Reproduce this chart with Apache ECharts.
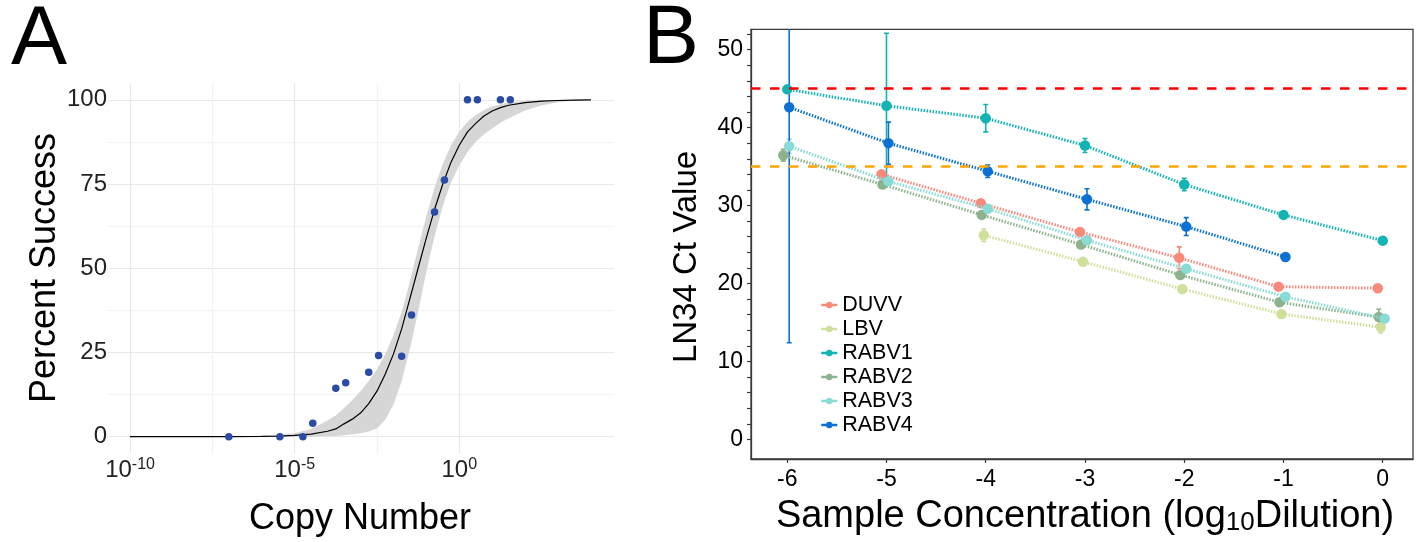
<!DOCTYPE html>
<html><head><meta charset="utf-8">
<script src="https://cdn.jsdelivr.net/npm/echarts@6/dist/echarts.min.js"></script>
<style>html,body{margin:0;padding:0;background:#fff}#c{width:1419px;height:542px}</style>
</head><body><div id="c"></div>
<script>
// ---------- Panel A data ----------
const copyLog10 = [-7.0, -5.45, -4.75, -4.45, -3.75, -3.45, -2.75, -2.45, -1.75, -1.45, -0.75, -0.45, 0.25, 0.55, 1.25, 1.55];
const percentSuccess = [0, 0, 0, 4, 14.4, 16, 19.1, 24.1, 23.9, 36.1, 66.7, 76.2, 100, 100, 100, 100];
const fitLog10 = [-10,-9,-8,-7,-6,-5.5,-5,-4.5,-4,-3.75,-3.5,-3.25,-3,-2.75,-2.5,-2.25,-2,-1.75,-1.5,-1.25,-1,-0.75,-0.5,-0.25,0,0.25,0.5,0.75,1,1.25,1.5,2,2.5,3,3.5,4];
const fitPercent = [0,0,0,0.02,0.08,0.17,0.37,0.74,1.6,2.3,3.8,5.2,7,9.8,13.5,18.5,24.5,32,41,50,59,67.5,75,81.5,86.5,90.5,93,95.2,96.7,97.7,98.4,99.2,99.6,99.8,99.9,100];
const fitLower = [0,0,0,0,0,0,0,0,0.1,0.2,0.4,0.7,1,1.5,2.5,5,9.5,16.5,26,37,49,59.5,68.5,75.5,80.5,84.5,87.5,89.8,91.5,93.2,94.5,96.8,98.3,99.3,99.7,100];
const fitUpper = [0,0,0,0.1,0.3,0.5,1,2.3,4.8,6.3,8.5,10.8,13.5,16.5,20,24.5,30,37,46,56,65.5,74,81,86.5,90.5,93.5,95.5,97,98,98.7,99.2,99.7,99.9,100,100,100];
const aXTicks = [-10, -7.5, -5, -2.5, 0, 2.5];
const aXLabels = [-10, -5, 0];
const aYTicks = [0, 12.5, 25, 37.5, 50, 62.5, 75, 87.5, 100];
const aYLabels = [0, 25, 50, 75, 100];

// ---------- Panel B data ----------
const dilution = [-6, -5, -4, -3, -2, -1, 0];
const seriesNames = ['DUVV', 'LBV', 'RABV1', 'RABV2', 'RABV3', 'RABV4'];
const DUVV  = [null, 34.0, 30.3, 26.6, 23.3, 19.6, 19.4];
const LBV   = [null, null, 26.2, 22.8, 19.3, 16.1, 14.4];
const RABV1 = [44.9, 42.8, 41.2, 37.7, 32.7, 28.8, 25.5];
const RABV2 = [36.45, 32.7, 28.8, 25.0, 21.1, 17.6, 15.7];
const RABV3 = [37.6, 33.1, 29.6, 25.55, 21.9, 18.3, 15.5];
const RABV4 = [42.6, 38.0, 34.4, 30.8, 27.3, 23.4, null];
const DUVV_sd  = [null, 0.3, 0.4, 0.3, 1.4, 0.3, 0.4];
const LBV_sd   = [null, null, 0.8, 0.3, 0.3, 0.3, 0.75];
const RABV1_sd = [0.3, 9.3, 1.75, 0.9, 0.8, 0.2, 0.2];
const RABV2_sd = [0.75, 0.3, 0.3, 0.3, 0.3, 0.3, 1.0];
const RABV3_sd = [0.9, 0.3, 0.3, 0.3, 0.3, 0.3, 0.3];
const RABV4_sd = [30.2, 2.7, 0.8, 1.35, 1.15, 0.2, null];
const bXLabels = [-6, -5, -4, -3, -2, -1, 0];
const bYTicks = [0,2,4,6,8,10,12,14,16,18,20,22,24,26,28,30,32,34,36,38,40,42,44,46,48,50,52];
const bYLabels = [0, 10, 20, 30, 40, 50];
const cutoffs = [45, 35];

// ---------- styling ----------
const FONT = "'Liberation Sans', Arial, Helvetica, sans-serif";
const bColors = {DUVV:'#F88A7C', LBV:'#CFE09C', RABV1:'#14B3B4', RABV2:'#8DB28E', RABV3:'#8ADBD6', RABV4:'#0B72D3'};
const dodge = {DUVV:-0.05, LBV:-0.02, RABV1:0, RABV2:-0.04, RABV3:0.02, RABV4:0.02};
const cutoffColors = ['#FF0000', '#FFA500'];
const means = {DUVV, LBV, RABV1, RABV2, RABV3, RABV4};
const sds = {DUVV:DUVV_sd, LBV:LBV_sd, RABV1:RABV1_sd, RABV2:RABV2_sd, RABV3:RABV3_sd, RABV4:RABV4_sd};

const chart = echarts.init(document.getElementById('c'), null, {renderer:'canvas'});

const series = [];
// Panel A band
series.push({
  type:'custom', xAxisIndex:0, yAxisIndex:0, silent:true, z:1,
  data: fitLog10.map((x,i)=>[x, fitLower[i], fitUpper[i]]),
  encode:{x:0, y:[1,2]},
  renderItem(params, api){
    if (params.dataIndex !== 0) return null;
    const up = fitLog10.map((x,i)=>api.coord([x, fitUpper[i]]));
    const lo = fitLog10.map((x,i)=>api.coord([x, fitLower[i]])).reverse();
    return {type:'polygon', shape:{points: up.concat(lo)}, style:{fill:'#D6D6D6'}};
  }
});
series.push({
  type:'line', xAxisIndex:0, yAxisIndex:0, z:3, silent:true,
  data: fitLog10.map((x,i)=>[x, fitPercent[i]]),
  showSymbol:false, smooth:false,
  lineStyle:{color:'#000', width:1.2}
});
series.push({
  type:'scatter', xAxisIndex:0, yAxisIndex:0, z:4, silent:true,
  data: copyLog10.map((x,i)=>[x, percentSuccess[i]]),
  symbolSize:7.5, itemStyle:{color:'#2A4CA6', opacity:1}
});

// Panel B: error bars
seriesNames.forEach(n=>{
  const col = bColors[n];
  const d = [];
  dilution.forEach((x,i)=>{ if (means[n][i] != null) d.push([x + dodge[n], means[n][i]-sds[n][i], means[n][i]+sds[n][i]]); });
  series.push({
    type:'custom', name: n + ' sd', xAxisIndex:1, yAxisIndex:1, clip:true, z:2, silent:true,
    data:d, encode:{x:0, y:[1,2]},
    renderItem(params, api){
      const x = api.value(0);
      const pLo = api.coord([x, api.value(1)]), pHi = api.coord([x, api.value(2)]);
      const w = 2.5, st = {stroke: col, lineWidth: 1.6};
      return {type:'group', children:[
        {type:'line', shape:{x1:pLo[0], y1:pLo[1], x2:pHi[0], y2:pHi[1]}, style:st},
        {type:'line', shape:{x1:pLo[0]-w, y1:pLo[1], x2:pLo[0]+w, y2:pLo[1]}, style:st},
        {type:'line', shape:{x1:pHi[0]-w, y1:pHi[1], x2:pHi[0]+w, y2:pHi[1]}, style:st}
      ]};
    }
  });
});
// Panel B: lines + points
seriesNames.forEach((n, k)=>{
  const d = [];
  dilution.forEach((x,i)=>{ if (means[n][i] != null) d.push([x + dodge[n], means[n][i]]); });
  const s = {
    type:'line', name:n, xAxisIndex:1, yAxisIndex:1, z:3 + k*0.01, silent:true,
    data:d, symbol:'circle', symbolSize:10.5, showSymbol:true,
    lineStyle:{color:bColors[n], width:3, type:[1.5,1.5]},
    itemStyle:{color:bColors[n]}
  };
  if (k === 0) {
    s.markLine = {
      silent:true, symbol:'none', label:{show:false},
      lineStyle:{width:2.6, type:[9.5,9.5]},
      data: cutoffs.map((v,j)=>({yAxis:v, lineStyle:{color:cutoffColors[j], width:2.6, type:[9.5,9.5]}}))
    };
  }
  series.push(s);
});

const option = {
  animation:false,
  backgroundColor:'#fff',
  textStyle:{fontFamily:FONT},
  grid:[
    {left:107, top:83, width:507, height:370.5, show:false},
    {left:751, top:29.3, width:662, height:429.7, show:true, borderColor:'#3a3a3a', borderWidth:1.3, backgroundColor:'transparent'}
  ],
  xAxis:[
    {type:'value', gridIndex:0, min:-10.7, max:4.7,
     axisLine:{show:false, onZero:false}, axisTick:{show:false, customValues:aXTicks},
     axisLabel:{customValues:aXLabels, margin:3, color:'#222',
       formatter:(v)=>'{b|10}{s|' + v + '}',
       rich:{b:{fontSize:24, lineHeight:28, fontFamily:FONT, color:'#222'},
             s:{fontSize:16, lineHeight:12, verticalAlign:'top', fontFamily:FONT, color:'#222'}}},
     splitLine:{show:true, showMinLine:true, showMaxLine:false, lineStyle:{color:['#E8E8E8','#F3F3F3'], width:1.2}}
    },
    {type:'value', gridIndex:1, min:-6.365, max:0.305, position:'bottom',
     axisLine:{show:true, onZero:false, lineStyle:{color:'#3a3a3a', width:1.3}},
     axisTick:{show:true, customValues:bXLabels, length:4, lineStyle:{color:'#3a3a3a', width:1.2}},
     axisLabel:{customValues:bXLabels, margin:9, fontSize:23, color:'#000', fontFamily:FONT, formatter:(v)=>String(v)},
     splitLine:{show:false}
    }
  ],
  yAxis:[
    {type:'value', gridIndex:0, min:-5, max:105,
     axisLine:{show:false, onZero:false}, axisTick:{show:false, customValues:aYTicks},
     axisLabel:{customValues:aYLabels, margin:0, fontSize:24, color:'#222', fontFamily:FONT},
     splitLine:{show:true, showMinLine:true, showMaxLine:true, lineStyle:{color:['#E8E8E8','#F3F3F3'], width:1.2}}
    },
    {type:'value', gridIndex:1, min:-2.5, max:52.6, position:'left',
     axisLine:{show:true, onZero:false, lineStyle:{color:'#3a3a3a', width:1.3}},
     axisTick:{show:true, customValues:bYTicks, length:4, lineStyle:{color:'#3a3a3a', width:1.2}},
     axisLabel:{customValues:bYLabels, margin:8, fontSize:23, color:'#000', fontFamily:FONT},
     splitLine:{show:false}
    }
  ],
  legend:{
    data:seriesNames, orient:'vertical', left:815, top:289,
    itemWidth:16, itemHeight:8, itemGap:2,
    lineStyle:{type:'solid', width:2.5},
    textStyle:{fontSize:21.5, lineHeight:21, color:'#000', fontFamily:FONT},
    selectedMode:false
  },
  graphic:[
    {type:'text', x:11, y:41, style:{text:'A', fontSize:84, fontFamily:FONT, fill:'#000', textAlign:'left', textVerticalAlign:'middle'}},
    {type:'text', x:643, y:40, style:{text:'B', fontSize:84, fontFamily:FONT, fill:'#000', textAlign:'left', textVerticalAlign:'middle'}},
    {type:'text', x:45, y:268, rotation:Math.PI/2, style:{text:'Percent Success', fontSize:36, fontFamily:FONT, fill:'#000', textAlign:'center', textVerticalAlign:'middle'}},
    {type:'text', x:360, y:519, style:{text:'Copy Number', fontSize:36, fontFamily:FONT, fill:'#000', textAlign:'center', textVerticalAlign:'middle'}},
    {type:'text', x:687, y:257, rotation:Math.PI/2, style:{text:'LN34 Ct Value', fontSize:33, fontFamily:FONT, fill:'#000', textAlign:'center', textVerticalAlign:'middle'}},
    {type:'text', x:1085, y:517, style:{text:'Sample Concentration (log{sub|10}Dilution)', fontSize:38, lineHeight:38, fontFamily:FONT, fill:'#000', textAlign:'center', textVerticalAlign:'middle',
      rich:{sub:{fontSize:26, lineHeight:8, verticalAlign:'bottom', fontFamily:FONT, fill:'#000'}}}}
  ],
  series
};
chart.setOption(option);
</script></body></html>
